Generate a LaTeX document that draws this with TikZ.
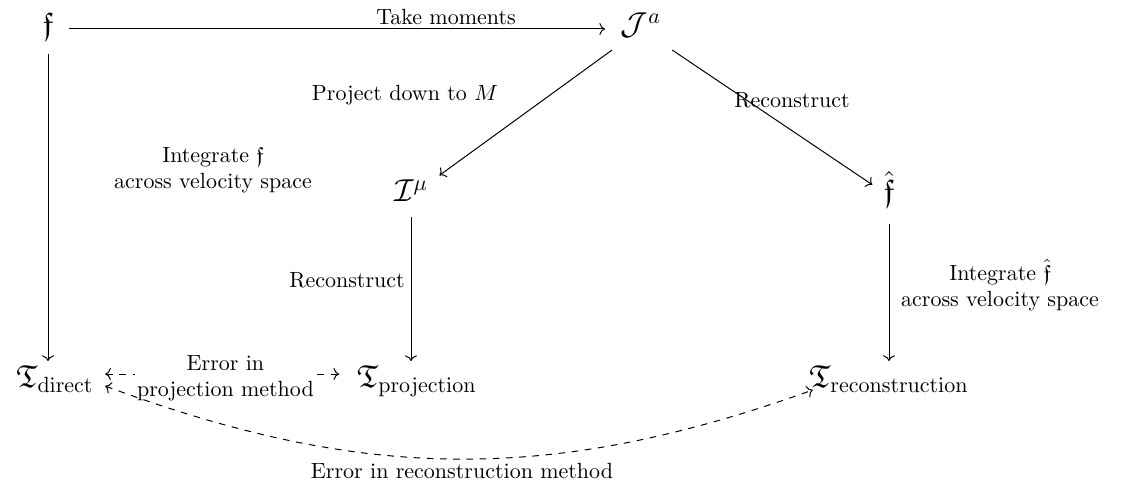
\documentclass[tikz,border=0pt]{standalone}
\usepackage{amssymb}
\usetikzlibrary{arrows.meta}
\begin{document}
\begin{tikzpicture}[x=0.4545pt,y=-0.4545pt,
  >={Computer Modern Rightarrow},
  every path/.style={line width=0.45pt},
  obj/.style={inner sep=5pt, font=\Large, text height=1.6ex, text depth=0.4ex},
  lbl/.style={font=\normalsize, align=center, inner sep=2pt},
  arr/.style={->},
  err/.style={<->, dashed}]
\useasboundingbox (0,0) rectangle (1122,491);
% objects
\node[obj] (f)  at (48,29)  {$\mathfrak{f}$};
\node[obj] (J)  at (641,29) {$\mathcal{J}^a$};
\node[obj] (I)  at (411,196) {$\mathcal{I}^\mu$};
\node[obj] (fh) at (889,196) {$\hat{\mathfrak{f}}$};
\node[obj] (Td) at (55,382) {$\mathfrak{T}_{\mathrm{direct}}$};
\node[obj] (Tp) at (417,382) {$\mathfrak{T}_{\mathrm{projection}}$};
\node[obj] (Tr) at (889,382) {$\mathfrak{T}_{\mathrm{reconstruction}}$};
% arrows
\draw[arr, shorten <=2pt, shorten >=2pt] (f) -- (J);
\node[lbl] (lt) at (446,17) {Take moments};
\draw[arr, shorten <=2pt] (f) -- (f |- Td.north);
\node[lbl] (li) at (213,170) {Integrate $\mathfrak{f}$\\across velocity space};
\draw[arr] (J) -- (I);
\node[lbl] (lp) at (405,95) {Project down to $M$};
\draw[arr] (J) -- (fh);
\node[lbl] (lr) at (792,100) {Reconstruct};
\draw[arr] (I) -- (I |- Tp.north);
\node[lbl] (lr2) at (347,280) {Reconstruct};
\draw[arr, shorten <=3pt] (fh) -- (fh |- Tr.north);
\node[lbl] (lih) at (1000,285) {Integrate $\hat{\mathfrak{f}}$\\across velocity space};
\draw[err, shorten >=3pt] ([shift={(0,-8)}]Td.east) -- node[lbl, fill=white, inner sep=1pt, yshift=-2pt] (le) {Error in\\projection method} ([shift={(0,-8)}]Tp.west);
\draw[err] ([shift={(0,4)}]Td.east) to[bend right=20] ([shift={(15,8)}]Tr.west);
\node[lbl] (ler) at (462,471) {Error in reconstruction method};
\end{tikzpicture}
\end{document}
